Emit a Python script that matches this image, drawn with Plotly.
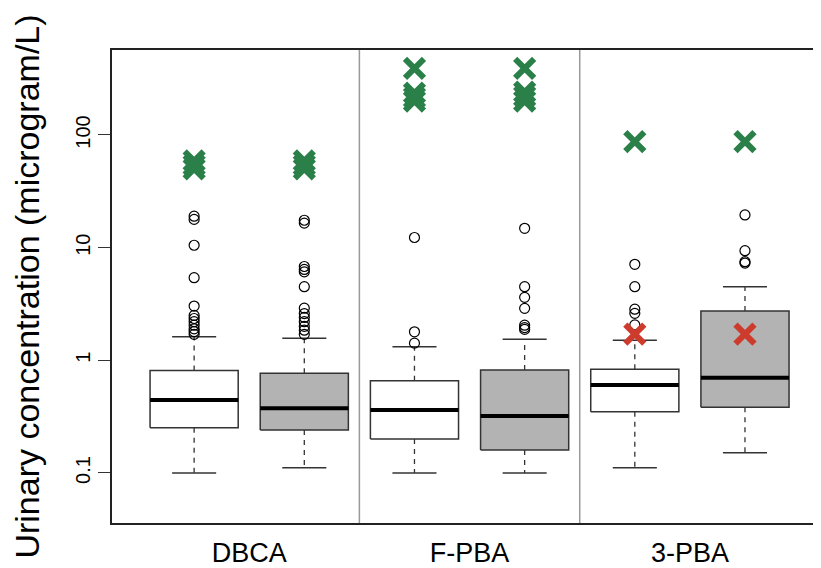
import plotly.graph_objects as go

# ---------------- data ----------------
groups = ["DBCA", "F-PBA", "3-PBA"]
box_fill = ["white", "#b3b3b3", "white", "#b3b3b3", "white", "#b3b3b3"]

lower_whisker = [0.100, 0.111, 0.100, 0.100, 0.111, 0.151]
q1            = [0.252, 0.241, 0.200, 0.160, 0.350, 0.383]
median        = [0.444, 0.375, 0.362, 0.320, 0.604, 0.701]
q3            = [0.810, 0.767, 0.659, 0.820, 0.832, 2.740]
upper_whisker = [1.62, 1.57, 1.32, 1.54, 1.51, 4.50]

outliers = [
    [19.0, 17.8, 10.5, 5.41, 3.03, 2.5, 2.35, 2.2, 2.05, 1.9, 1.8, 1.7],
    [17.5, 16.5, 6.8, 6.4, 6.1, 4.5, 2.9, 2.6, 2.4, 2.2, 2.0, 1.85, 1.7],
    [12.3, 1.79, 1.42],
    [14.85, 4.5, 3.62, 2.89, 2.05, 1.95, 1.88],
    [7.11, 4.5, 2.84, 2.61, 2.06],
    [19.5, 9.39, 7.5, 7.3],
]

green_x = [
    [50, 54, 59],
    [50, 54, 59],
    [390, 235, 215, 200],
    [390, 240, 220, 200],
    [87.1],
    [87.1],
]

red_x = [None, None, None, None, 1.71, 1.71]

# ---------------- styling ----------------
BOX_W = 0.8
CAP_W = 0.4
EDGE = "#333333"
GREEN = "#2a8048"
RED = "#cc3b2c"

fig = go.Figure()

for i in range(6):
    p = i + 1
    xl, xr = p - BOX_W / 2, p + BOX_W / 2
    # whiskers (dashed)
    fig.add_trace(go.Scatter(
        x=[p, p, None, p, p],
        y=[q3[i], upper_whisker[i], None, q1[i], lower_whisker[i]],
        mode="lines", line=dict(color=EDGE, width=1.3, dash="5px,5px"),
        hoverinfo="skip", showlegend=False))
    # caps
    fig.add_trace(go.Scatter(
        x=[p - CAP_W / 2, p + CAP_W / 2, None, p - CAP_W / 2, p + CAP_W / 2],
        y=[upper_whisker[i], upper_whisker[i], None, lower_whisker[i], lower_whisker[i]],
        mode="lines", line=dict(color=EDGE, width=1.5),
        hoverinfo="skip", showlegend=False))
    # box
    fig.add_trace(go.Scatter(
        x=[xl, xr, xr, xl, xl],
        y=[q1[i], q1[i], q3[i], q3[i], q1[i]],
        mode="lines", fill="toself", fillcolor=box_fill[i],
        line=dict(color=EDGE, width=1.5),
        hoverinfo="skip", showlegend=False))
    # median
    fig.add_trace(go.Scatter(
        x=[xl, xr], y=[median[i], median[i]],
        mode="lines", line=dict(color="black", width=4),
        hoverinfo="skip", showlegend=False))
    # outliers
    fig.add_trace(go.Scatter(
        x=[p] * len(outliers[i]), y=outliers[i], mode="markers",
        marker=dict(symbol="circle-open", size=10, color="black",
                    line=dict(width=1.2, color="black")),
        showlegend=False))
    # green X
    fig.add_trace(go.Scatter(
        x=[p] * len(green_x[i]), y=green_x[i], mode="markers",
        marker=dict(symbol="x-thin", size=19, color=GREEN,
                    line=dict(width=6, color=GREEN)),
        showlegend=False))
    if red_x[i] is not None:
        fig.add_trace(go.Scatter(
            x=[p], y=[red_x[i]], mode="markers",
            marker=dict(symbol="x-thin", size=19, color=RED,
                        line=dict(width=6, color=RED)),
            showlegend=False))

# group separators
for k in range(1, len(groups)):
    sep = 2 * k + 0.5
    fig.add_shape(type="line", xref="x", yref="paper", x0=sep, x1=sep, y0=0, y1=1,
                  line=dict(color="#999999", width=1.5), layer="below")

fig.update_layout(
    width=813, height=560,
    margin=dict(l=104, r=0, t=42, b=45),
    plot_bgcolor="white", paper_bgcolor="white",
    font=dict(family="Liberation Sans, Arial, sans-serif", color="black"),
    xaxis=dict(
        range=[0.2545, 6.69],
        tickmode="array",
        tickvals=[2 * k + 1.5 for k in range(len(groups))],
        ticktext=groups,
        ticks="", showgrid=False, zeroline=False,
        showline=True, linecolor="#222222", linewidth=1.5, mirror=True,
        tickfont=dict(size=27), ticklabelstandoff=5,
        automargin=False,
    ),
    yaxis=dict(
        type="log",
        range=[-1.444, 2.754],
        tickmode="array",
        tickvals=[0.1, 1, 10, 100],
        ticktext=["0.1", "1", "10", "100"],
        tickangle=-90,
        ticks="outside", ticklen=12, tickwidth=1.2, tickcolor="#333333",
        showgrid=False, zeroline=False,
        showline=True, linecolor="#222222", linewidth=1.5, mirror=False,
        tickfont=dict(size=20), ticklabelstandoff=0,
        automargin=False,
        title=dict(text="Urinary concentration (microgram/L)",
                   font=dict(size=34), standoff=28),
    ),
)

fig.write_html("out.html")
